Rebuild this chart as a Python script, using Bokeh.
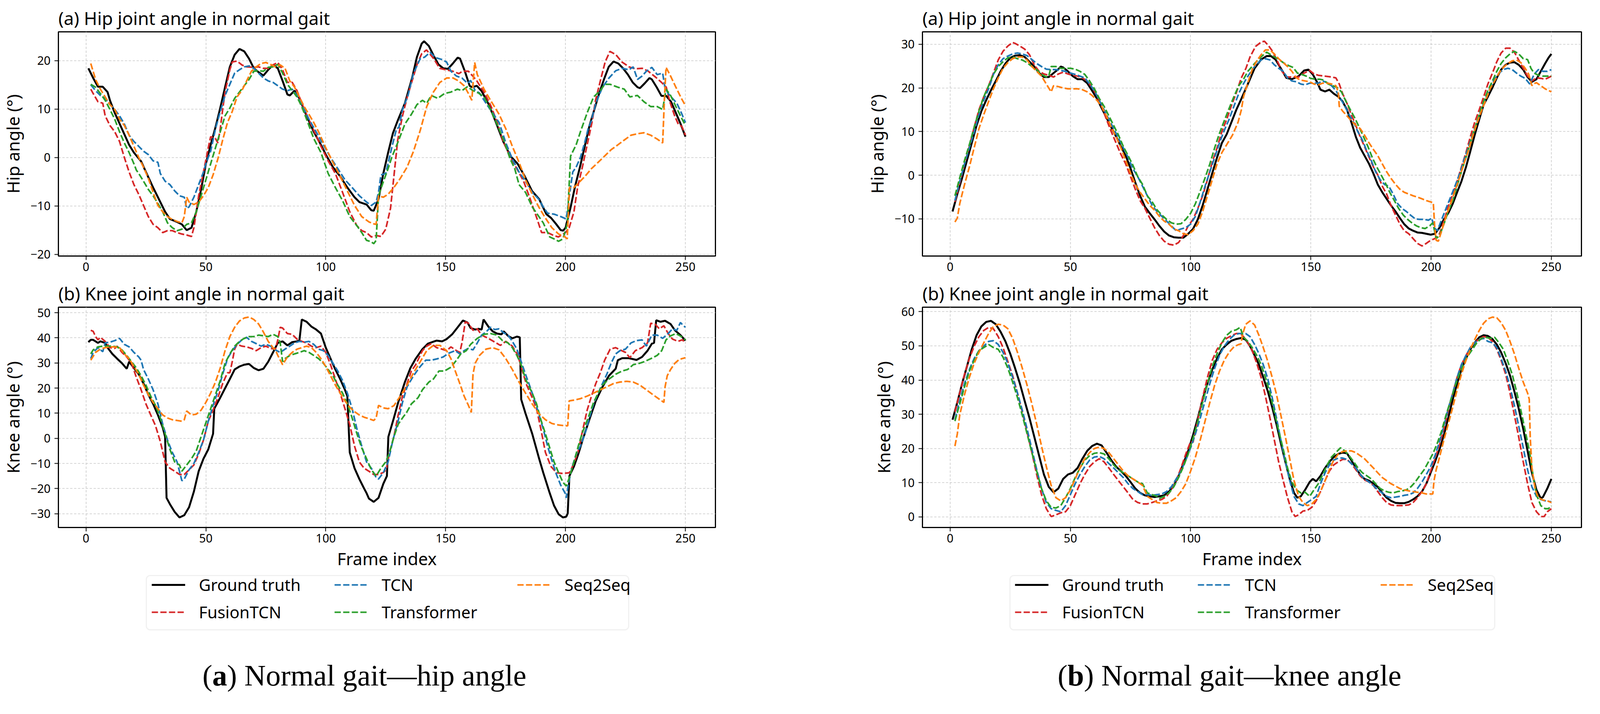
from bokeh.plotting import figure
from bokeh.layouts import row, column
from bokeh.models import Range1d, Legend, LegendItem, BoxAnnotation
from bokeh.core.properties import value
from bokeh.embed import file_html
from bokeh.resources import INLINE

# ---------------- data (frame index, angle in degrees) ----------------
series_names = ["Ground truth", "FusionTCN", "TCN", "Transformer", "Seq2Seq"]
series_colors = ["#000000", "#d62728", "#1f77b4", "#2ca02c", "#ff7f0e"]
x_ticks = [0, 50, 100, 150, 200, 250]

# ---- (a) Normal gait, hip panel ----
hipA_gt_f = [1,3,5,7,9,10,12,15,18,20,23,25,28,30,33,35,38,40,42,44,46,48,50,52,54,56,58,60,62,64,66,68,70,72,74,76,78,80,82,84,85,87,89,92,95,98,100,103,106,109,112,114,117,119,120,122,124,126,128,130,133,136,138,140,141,143,145,147,149,151,153,155,156,158,160,161,163,165,168,171,174,177,180,183,186,189,192,194,196,198,199,200,202,204,206,208,210,212,214,216,218,220,222,224,226,228,230,231,233,235,236,238,240,242,244,246,248,250]
hipA_gt_v = [18.4,16.4,14.6,14.6,13.5,11.8,9.2,5.9,2.6,1.0,-0.8,-3.0,-6.2,-8.2,-11.2,-12.7,-13.3,-13.8,-15.0,-14.5,-11.2,-6.6,-1.3,2.6,6.2,10.2,14.5,18.7,21.2,22.4,21.9,20.4,18.4,17.6,16.9,18.1,19.1,18.4,15.8,13.0,12.8,13.8,12.2,8.6,5.3,2.6,0.6,-2.0,-3.9,-6.2,-8.2,-9.2,-9.7,-10.9,-11.0,-8.6,-3.3,1.0,5.0,7.6,11.2,16.4,20.7,23.5,24.0,23.0,21.0,19.2,18.4,18.3,19.4,20.6,20.4,17.8,14.8,14.5,14.8,13.7,10.9,7.2,3.3,0.3,-1.3,-3.9,-6.9,-8.6,-11.7,-12.5,-13.7,-15.0,-15.1,-14.5,-10.5,-5.9,-2.0,2.3,6.6,9.9,13.2,16.1,18.7,19.8,19.4,18.4,17.1,15.5,14.5,14.3,15.3,16.4,16.1,14.5,12.7,12.7,11.5,9.2,6.9,4.3]
hipA_fus_f = [2,3,5,7,8,10,12,14,16,18,20,22,24,26,28,30,32,34,36,38,40,42,44,45,46,47,49,51,52,54,55,56,57,58,59,60,61,63,65,67,70,72,74,76,78,80,82,84,86,88,90,92,95,98,101,104,107,110,113,115,117,119,121,123,125,127,128.5,130,132,134,136,138,140,142,145,147.5,150,153,155.5,157,159.5,162,163,166,169,171.5,174,177,180,182.5,185,188,190,192.5,195,197,200,201.5,203.5,205,207,209,211,212.5,214.5,216.5,218.5,221,223.5,226.5,229,232,234.5,237.5,240,242,243.5,245.5,247,248.5,250]
hipA_fus_v = [14.1,13.2,11.5,11.2,8.6,6.6,5.3,3.3,0.0,-3.0,-5.6,-7.6,-9.9,-12.2,-13.8,-14.5,-15.5,-15.1,-15.1,-15.5,-15.8,-16.0,-16.3,-14.5,-11.2,-7.9,-3.0,2.0,4.3,3.9,3.0,5.9,9.9,13.5,15.8,18.1,19.7,19.9,19.1,18.7,18.6,18.7,18.4,18.4,19.1,19.6,18.1,15.5,15.5,13.8,11.2,8.9,5.6,2.3,-0.7,-3.3,-7.2,-11.2,-14.1,-15.1,-15.5,-16.4,-16.1,-16.3,-14.8,-10.5,-3.5,3.6,8.6,12.5,15.8,19.1,21.4,22.2,20.4,18.4,18.1,17.8,17.3,17.8,17.8,16.4,15.8,13.5,10.5,7.2,3.3,0.0,-2.6,-4.9,-8.2,-12.5,-15.5,-15.5,-16.1,-16.4,-15.5,-14.5,-11.2,-6.2,-2.0,2.6,7.2,11.8,15.8,19.7,21.9,21.2,19.7,18.7,18.3,18.4,17.8,16.6,15.5,14.5,11.5,8.6,6.9,6.4,4.6]
hipA_tcn_f = [2,4,6,8,10,12,14,16,18,20,22,24,26,28,30,31,33,35,37,39,41,42,43,45,47,49,50,52,54,56,58,60,62,64,66,68,70,72,74,76,78,80,82,84,86,88,90,93,96,99,102,105,108,111,114,117,119,121,122,123,125,127.5,129.5,130.5,132,134.3,136.6,139.4,141.2,143.5,145.8,148.5,150.4,152.2,154.5,156.8,159.1,160.4,162.3,164.1,166.8,169.6,172.3,175.1,177.8,180.6,183.3,186.1,188.8,190.7,192.5,195.2,198,200.3,201.6,203,204.4,206.2,208.1,209.4,210.8,212.6,215.4,218.1,220.9,223.6,226.4,228.2,230,231.9,233.7,236,238.2,240.5,241.4,242.8,244.6,246.4,248.3,250]
hipA_tcn_v = [15.0,13.8,12.8,12.2,10.9,9.9,8.6,6.9,4.6,3.3,2.3,1.3,0.6,-0.7,-1.0,-3.3,-4.9,-5.6,-6.9,-7.9,-8.2,-10.5,-10.2,-8.2,-5.6,-3.0,-1.3,1.3,5.9,9.5,12.8,15.1,17.4,18.1,18.7,18.9,18.4,17.4,16.4,15.8,15.5,14.8,14.1,13.8,14.1,12.8,10.9,7.9,5.3,2.6,0.0,-2.3,-4.6,-6.2,-7.9,-9.2,-9.9,-9.2,-7.2,-3.6,-3.3,2.0,5.9,6.2,9.9,12.8,17.4,20.4,20.7,21.7,20.6,20.2,19.7,17.8,16.8,16.4,15.3,15.9,13.8,13.3,11.2,9.2,7.2,3.0,-0.3,-3.0,-4.9,-7.2,-8.6,-10.2,-11.5,-11.7,-12.2,-12.7,-7.9,-3.0,-2.0,0.0,3.3,5.9,7.6,11.2,14.5,16.4,17.9,18.4,18.1,18.7,16.1,16.8,17.8,18.6,17.1,17.4,14.5,13.2,12.2,11.2,9.2,7.2]
hipA_trf_f = [2,4,6,8,10,12,14,16,18,20,21,22,24,26,28,30,32,34,36,38,40,42,44,46,48,50,52,54,56,58,60,62,64,66,68,70,72,74,76,78,80,82,84,86,88,90,92,95,98,101,104,107,110,113,115,117,119,120,121,122,124,126,127.5,130.2,133,135.7,138,140.3,142.1,144,146.7,149.5,152.2,154.9,156.8,159.1,161.4,163.7,166,168.7,171.4,174.2,176.9,178.8,180.6,183.3,186.1,187.9,190.7,193.4,195.2,197.1,198.9,200.7,201.6,202.1,204.4,206.2,209,211.7,214.5,216.3,218.6,221.8,224.5,226.8,230,232.7,235.5,238.2,240.5,241.9,243.8,246,248.3,250]
hipA_trf_v = [15.1,14.5,13.2,11.8,9.9,7.9,5.3,3.0,1.0,-1.3,-2.6,-3.3,-4.9,-6.6,-7.9,-9.5,-11.2,-13.5,-14.5,-15.1,-14.8,-13.8,-13.5,-11.2,-7.9,-4.6,-1.3,2.0,5.3,8.6,10.2,12.2,13.5,14.8,16.1,17.8,17.9,17.8,18.6,18.7,19.2,17.4,15.1,13.8,12.5,10.5,7.9,3.9,1.0,-3.3,-6.2,-8.9,-12.2,-14.1,-15.5,-17.1,-17.4,-17.8,-17.1,-7.9,-5.0,-2.3,0.0,3.3,6.9,8.9,10.9,11.8,11.2,12.8,12.2,13.2,13.5,14.1,13.8,14.6,13.8,13.3,12.5,9.9,6.9,3.6,-0.3,-2.3,-5.6,-7.2,-10.2,-11.5,-13.5,-16.4,-16.8,-17.3,-16.8,-13.8,-4.6,0.3,2.6,5.3,9.2,12.5,13.8,15.1,15.1,14.5,14.1,12.5,12.8,11.5,10.5,10.5,9.9,14.1,12.8,10.5,8.2,6.6]
hipA_s2s_f = [2,4,6,8,10,12,14,16,18,20,22,24,26,28,30,32,34,36,38,40,41,42,43,45,47,49,51,53,55,57,59,61,63,65,67,69,71,73,75,77,79,81,83,85,87,89,91,93,95,97,100,103,106,109,112,115,118,120,121,122,124,126,128.4,131.1,133.9,136.6,139.4,142.1,144.9,147.6,150.4,153.1,155.4,157.7,159.5,160.9,161.4,162.1,163.2,166,168.7,172.3,175.1,177.8,180.6,183.3,186.1,188.8,191.6,194.3,197.1,199.8,200.7,201.2,201.6,203.5,205.3,208.1,210.8,213.6,216.3,219,221.8,224.5,227.3,230,232.7,235.5,238.2,240.5,241.2,241.9,243.8,246,248.3,250]
hipA_s2s_v = [19.4,16.1,14.1,12.5,10.9,9.9,7.9,6.6,4.6,2.3,0.0,-2.0,-4.3,-7.2,-9.9,-11.2,-12.2,-12.8,-13.2,-13.5,-12.2,-8.2,-9.2,-9.7,-9.2,-7.9,-6.2,-3.6,-0.3,3.6,7.2,9.5,12.5,13.8,15.8,17.8,18.7,19.4,19.6,19.2,18.7,19.1,18.4,15.8,14.5,12.5,10.5,8.9,7.2,5.3,2.0,-1.0,-3.9,-6.9,-9.9,-12.2,-13.3,-13.7,-13.8,-7.9,-8.2,-7.6,-6.2,-4.3,-2.0,1.3,5.6,10.5,13.5,15.5,16.4,16.4,15.8,14.8,13.2,11.8,15.1,19.6,17.1,14.1,11.8,8.9,5.9,2.3,-1.0,-4.6,-7.6,-10.2,-12.5,-14.5,-15.8,-16.4,-16.8,-11.2,-6.2,-6.2,-5.3,-3.9,-2.3,-1.0,0.3,1.6,2.6,3.6,4.6,4.9,5.1,4.6,3.8,3.0,11.8,18.6,16.8,14.5,12.2,10.7]

# ---- (a) Normal gait, knee panel ----
kneeA_gt_f = [1,2,3,5,6,8,9,11,13,15,17,18,20,22,24,26,28,30,32,33,33.6,35,37,39,41,43,45,47,49,51,53,53.5,56,58,60,62,64,66,68,70,72,74,76,78,80,82,84,86,88,89,90,92,94,96,98,100,102,104,106,108,109,110,112,114,116,117,118,120,122,124,125.5,126.1,128.4,130.2,133,135.3,137.5,140.3,142.6,145.3,146.2,148.5,150.4,152.7,155,157.2,159.1,160.4,162.3,163.6,165,165.8,167.8,169.6,171.4,173.3,174.2,176,177.8,179.7,180.9,181.5,183.3,186.1,188.8,190.7,193.4,195.2,197.1,198.9,200.3,200.9,201.6,203.5,205.3,207.1,209.9,212.6,215.4,218.1,220.9,221.8,223.6,226.4,229.6,231.9,234.2,236,236.9,237.8,239.6,241.5,243.8,245.6,247.9,250]
kneeA_gt_v = [38.3,39.2,39.2,38.0,38.6,38.0,36.1,33.6,31.7,29.9,27.7,30.5,28.0,25.5,21.8,17.4,13.7,9.3,4.3,0.6,-23.7,-26.2,-29.3,-31.5,-30.6,-27.4,-21.2,-13.1,-8.1,-4.4,1.8,11.8,16.2,19.9,23.6,27.4,28.6,29.3,29.6,28.0,27.1,27.7,30.5,34.2,38.0,38.6,37.0,38.3,38.6,38.9,47.3,46.4,44.5,43.3,41.7,36.1,31.7,27.4,23.6,19.3,16.8,-5.6,-11.9,-16.2,-20.0,-21.8,-24.0,-25.3,-23.7,-18.1,-15.0,0.6,8.1,14.3,22.4,28.0,31.7,35.5,37.7,38.6,38.9,38.6,39.5,41.4,44.2,46.9,46.1,43.9,43.3,43.6,43.3,47.3,44.5,42.6,41.7,41.4,42.6,40.8,39.8,40.5,40.2,15.5,9.9,1.8,-7.5,-13.7,-21.8,-26.8,-30.2,-31.5,-31.2,-29.9,-15.0,-11.2,-6.3,-0.7,7.4,14.9,20.5,24.9,27.7,31.1,31.9,31.9,31.2,32.4,34.9,37.7,38.0,47.0,46.4,46.8,45.5,43.0,41.1,38.9]
kneeA_fus_f = [2,3,4,5,6,8,10,12,13,15,17,19,21,23,25,27,29,31,33,35,37,39,41,43,45,47,49,51,53,55,57,59,60,61,62,63,65,67,69,71,73,75,77,79,80,81,82,84,86,88,90,92,94,96,98,100,102,104,106,108,110,112,114,116,118,120,122,124,125.2,126.6,128.4,130.2,132,133.9,135.7,137.5,140.3,142.1,144,146.2,148.5,150.4,152.2,154.5,155.9,156.8,158.2,159.5,161.4,163.2,165,167.8,170.5,172.8,175.1,177.8,180.1,182,183.8,186.1,187.9,189.7,191.6,193.9,196.2,198.9,201.6,203.5,205.3,207.1,209,210.8,212.6,214.5,216.3,218.6,220.9,222.7,225,226.8,229.1,231.9,234.2,235.5,237.3,239.1,241,242.8,244.6,246.9,248.7,250]
kneeA_fus_v = [43.0,42.6,40.5,39.2,40.2,38.6,36.1,35.8,36.7,34.2,32.4,29.9,24.3,19.3,13.7,9.3,5.0,-1.3,-9.4,-11.9,-13.1,-14.4,-14.4,-12.5,-10.6,-6.2,-0.7,6.8,11.2,16.2,21.8,26.1,26.1,30.5,35.5,37.4,36.7,36.4,35.8,34.9,36.1,36.7,35.8,35.5,39.2,44.2,43.9,41.7,41.4,39.5,38.6,38.0,36.7,36.1,36.7,34.2,29.3,23.6,18.0,11.8,5.5,-3.1,-9.4,-11.9,-13.1,-14.4,-14.4,-13.6,-12.5,-5.6,0.6,9.3,16.8,21.8,26.8,29.3,34.9,36.7,37.7,36.1,35.5,34.9,36.4,34.9,34.2,38.0,46.4,45.8,43.0,43.6,41.1,39.8,38.3,37.0,38.6,36.7,33.0,26.8,21.2,16.2,11.8,3.7,-5.6,-11.2,-13.7,-14.0,-13.7,-10.0,-5.0,3.1,11.2,16.8,21.8,26.1,31.1,35.5,36.1,35.2,34.2,32.1,34.9,36.1,38.0,45.8,45.5,43.6,44.8,41.7,39.5,38.6,39.2,38.0]
kneeA_tcn_f = [2,3,5,7,8,10,12,14,16,18,20,22,23,24,26,28,30,32,34,36,38,40,41,43,45,47,49,51,53,55,57,59,61,63,65,67,69,71,73,75,77,79,81,83,85,87,89,91,93,95,97,99,101,103,105,107,109,111,113,115,117,119,121,122,124,126,128,130,132,133.9,136.6,139.4,141.7,144,146.7,149,151.3,154,155.9,157.7,159.5,161.4,163.2,165,166.8,168.7,170.5,172.3,174.2,176,177.8,179.7,181.5,183.3,185.2,187,188.8,190.7,192.5,194.3,196.2,198,199.8,200.3,201.2,202.6,204.4,206.2,208.1,209.9,211.7,213.6,215.4,217.2,219,220.9,222.7,225,227.3,229.6,231.9,233.7,236,238.2,240.5,242.8,244.6,246.4,247.9,249.2,250]
kneeA_tcn_v = [31.7,34.2,36.1,34.5,38.0,38.3,38.9,39.8,37.4,36.4,34.2,32.4,31.1,27.4,23.6,19.3,13.7,5.6,-0.7,-5.6,-9.4,-16.9,-16.2,-12.5,-10.0,-5.6,-0.7,6.8,13.1,18.7,25.5,31.7,34.9,37.4,39.2,40.2,38.6,37.7,36.7,37.4,36.7,35.2,34.2,35.5,36.7,38.0,38.6,38.3,38.6,37.4,35.5,34.9,33.0,29.9,26.8,23.0,18.0,11.8,3.7,-3.1,-9.4,-11.9,-15.6,-16.2,-13.7,-9.4,-0.7,6.2,14.3,20.5,24.9,28.6,31.1,31.1,31.7,32.4,33.9,34.9,33.6,34.9,35.8,35.2,38.0,41.1,42.3,44.2,43.3,43.6,42.0,41.1,38.6,35.5,30.5,25.5,20.5,15.5,9.9,3.7,-3.1,-8.8,-14.4,-18.7,-21.8,-23.7,-18.1,-11.9,-6.3,-3.1,1.8,8.1,13.7,18.0,21.8,25.5,29.9,33.6,34.9,35.5,38.0,38.9,39.2,36.7,41.1,41.1,39.8,41.7,43.6,43.0,46.1,44.8,44.2]
kneeA_trf_f = [2,3,5,7,9,11,13,15,17,19,21,23,25,27,29,31,33,35,37,39,40,42,44,46,48,50,52,54,56,58,60,62,64,66,68,70,72,74,76,78,80,81,82,83,85,87,89,91,93,95,97,99,101,103,105,107,109,111,113,115,117,119,121,123,125,126.6,128.4,130.2,132,133.9,135.7,138.5,140.3,143,144.9,147.2,149.5,152.2,154.5,156.3,158.6,160.4,163.2,166,168.7,171.4,173.7,176,177.8,179.7,181.5,183.3,186.1,187.9,189.7,191.6,193.4,195.2,197.1,198.9,200.3,201.6,203.5,205.3,207.1,209.4,211.7,213.6,215.4,218.1,220.9,223.6,225.9,228.2,230.9,232.8,235.5,238.2,240.1,241.9,243.8,246,248.3,250]
kneeA_trf_v = [33.6,35.2,36.4,36.7,36.7,36.7,36.4,35.2,33.0,30.5,28.0,24.9,21.2,16.8,13.1,8.1,1.8,-4.4,-9.4,-10.6,-13.1,-10.6,-8.1,-5.0,0.6,6.2,11.8,17.4,23.0,29.9,33.6,36.7,38.6,39.8,40.5,40.5,41.1,40.8,40.5,41.4,40.5,38.0,30.5,31.7,33.0,33.6,34.2,34.9,34.2,33.0,31.7,29.9,27.4,24.9,21.2,18.0,13.7,8.1,1.8,-3.8,-8.1,-12.5,-15.0,-11.9,-9.4,-5.6,0.6,5.6,8.1,10.6,13.7,16.2,19.3,22.4,23.6,26.8,26.8,28.3,31.1,33.6,34.9,37.4,39.8,41.4,41.7,41.1,38.9,38.0,36.1,33.0,29.3,23.6,18.0,13.7,7.4,1.8,-3.8,-9.4,-13.7,-17.5,-19.0,-15.6,-9.4,-3.1,2.5,8.1,14.3,18.0,21.2,23.6,25.5,26.8,27.4,29.3,29.9,30.5,31.7,33.0,34.9,39.2,40.8,41.7,40.5,39.2]
kneeA_s2s_f = [2,4,6,8,10,12,14,16,18,20,22,24,26,28,30,32,34,36,38,40,41,42,44,46,48,50,52,54,56,58,60,62,64,66,68,70,72,74,76,78,79,80,82,84,86,88,90,92,94,96,98,100,102,104,106,108,110,112,114,116,118,120,121,122,124,126,128.4,131.1,133.9,136.6,139.4,142.1,144.9,147.6,150.4,152.2,154,155.9,157.7,159.5,160.7,161.4,162.3,164.1,166.8,169.6,172.3,175.1,177.8,180.6,183.3,186.1,188.8,191.6,194.3,197.1,199.8,200.9,201.5,203.5,206.2,209,211.7,214.5,217.2,220,222.7,225.5,228.2,231,233.7,236.4,239.2,241,241.5,242.4,243.8,245.6,247.4,250]
kneeA_s2s_v = [31.1,34.2,35.5,36.1,36.4,36.4,36.1,33.6,31.7,28.6,25.5,21.2,17.4,14.3,11.8,9.3,8.1,7.4,7.1,6.8,7.4,10.9,9.3,9.6,11.2,14.3,18.0,22.4,28.0,34.9,40.5,44.2,46.7,47.9,48.3,47.3,45.5,42.3,38.6,36.1,35.2,33.0,29.3,32.4,34.2,35.5,36.1,36.7,36.1,34.2,31.7,28.6,24.9,21.2,18.0,14.9,12.4,10.6,9.3,8.4,7.8,7.1,8.1,13.1,12.1,11.8,13.0,16.8,21.2,26.1,30.5,34.9,37.0,37.0,34.9,31.7,26.8,21.8,16.8,13.1,10.3,25.5,29.9,33.0,35.5,36.1,35.2,31.7,27.4,22.4,18.0,13.7,9.9,7.4,5.9,5.3,5.0,5.0,14.9,15.2,15.8,16.8,18.0,19.3,20.5,21.8,22.4,22.7,22.4,21.2,19.3,17.4,15.5,14.3,20.5,24.9,27.4,29.9,31.4,32.1]

# ---- (b) Normal gait, hip panel ----
hipB_gt_f = [1,3,5,7,9,11,13,15,17,19,21,23,25,27,29,31,33,35,37,39,41,43,45,46,47,49,51,53,55,57,59,61,63,65,67,69,71,73,75,77,79,81,83,85,87,89,91,93,95,97,99,101,103,105,107,109,111,113,115,117,119,121,123.8,126.6,129.3,131.6,133.4,135.3,137.5,139.8,142.1,144.9,147.2,149,150.8,152.7,154,155.9,157.7,159.5,161.4,163.2,165,166.8,168.7,170.5,172.3,174.2,176,177.8,179.7,181.5,183.3,185.2,187,188.8,190.7,192.5,194.3,196.2,198,199.8,201.6,203.5,205.3,207.1,209,210.8,212.6,214.5,216.3,218.1,220,221.8,223.6,225.5,227.3,229.1,231,232.8,234.6,236.4,238.3,240.1,241.9,243.8,245.6,247.4,248.8,250]
hipB_gt_v = [-8.3,-4.3,-0.6,3.4,7.4,11.4,14.7,17.2,19.5,21.6,23.8,25.6,26.9,27.4,27.5,27.1,26.0,24.9,23.4,22.5,22.5,23.4,24.3,24.9,24.7,23.8,22.7,22.0,22.0,21.1,19.4,17.6,15.4,13.2,11.0,8.9,6.6,4.5,1.6,-1.7,-4.7,-7.2,-8.7,-10.1,-11.6,-12.9,-13.8,-14.2,-14.3,-14.3,-13.4,-12.3,-10.1,-6.9,-3.2,0.5,4.1,7.4,9.4,12.2,15.0,17.4,20.9,24.5,26.5,27.3,27.3,26.5,24.5,22.3,22.0,22.7,24.0,24.2,23.1,21.2,19.6,19.2,19.6,18.7,18.0,16.9,15.0,12.2,8.8,6.3,4.5,2.6,0.4,-2.1,-3.9,-5.4,-6.9,-8.3,-9.8,-11.2,-12.2,-12.7,-13.1,-13.2,-13.4,-13.6,-13.4,-12.0,-10.1,-8.7,-6.5,-3.9,-1.4,1.9,5.5,9.2,12.8,16.1,18.0,20.1,22.3,24.2,25.3,25.8,25.9,25.3,24.2,22.5,21.4,22.0,23.8,25.6,26.9,27.8]
hipB_fus_f = [2,4,6,8,10,12,14,16,18,20,22,24,26,27,29,31,33,35,37,39,41,43,45,47,49,51,53,55,57,59,61,63,65,67,69,71,73,75,77,79,81,83,85,87,89,91,93,95,97,99,101,103,105,107,109,111,113,115,117,119,121,123,124.7,127,129.3,130.7,132.5,134.3,136.2,138,139.8,142.1,144.9,147.2,149.5,151.3,153.1,155.9,158.6,160.4,161.8,163.2,165,166.8,168.7,170.5,172.3,174.2,176,177.8,179.7,181.5,183.3,185.2,187,188.8,190.7,192.5,194.3,196.2,198,199.8,201.6,203.5,205.3,207.1,209,210.8,212.6,214.5,216.3,218.1,220,221.8,223.6,225.5,227.3,229.1,231,232.8,234.6,236.4,238.3,240.1,241.9,243.8,245.6,247.4,250]
hipB_fus_v = [-6.1,-1.8,2.6,6.6,11.0,15.0,18.0,20.5,23.4,26.4,28.4,29.6,30.4,30.2,29.6,28.9,27.6,25.3,23.8,23.2,22.9,22.5,23.2,23.6,23.2,22.9,22.7,22.3,21.6,20.1,18.3,15.8,12.8,10.0,7.4,4.8,2.6,-0.3,-3.2,-5.8,-7.6,-9.8,-12.0,-13.8,-15.1,-15.8,-16.0,-15.4,-13.8,-11.6,-10.1,-7.6,-4.7,-1.0,3.0,6.3,10.0,12.8,16.0,18.9,22.2,24.5,27.1,29.5,30.5,30.7,29.6,28.2,26.0,23.8,22.5,22.5,22.5,23.4,24.0,23.2,22.9,22.7,22.5,22.3,20.9,18.7,16.5,13.9,11.4,8.8,6.6,4.1,1.9,0.1,-2.5,-4.3,-6.9,-9.1,-11.2,-12.7,-13.4,-14.5,-15.6,-16.2,-15.6,-14.9,-14.5,-13.4,-10.5,-7.2,-4.3,-1.4,1.9,5.2,8.8,12.1,15.0,17.9,20.9,23.4,26.0,28.0,29.1,29.1,28.2,26.4,24.5,22.7,21.6,22.3,22.2,22.0,22.7]
hipB_tcn_f = [2,4,6,8,10,12,14,16,18,20,22,24,26,28,30,32,34,36,38,40,42,44,46,48,50,52,54,56,58,60,62,64,66,68,70,72,74,76,78,80,82,84,86,88,90,92,94,96,98,100,102,104,106,108,110,112,114,116,118,120,122,123.8,126.6,129.3,131.1,133,134.8,136.6,138.5,140.3,142.1,144,145.8,147.6,149.5,151.3,153.1,154.9,156.8,158.6,160.4,162.3,164.1,165.9,167.8,169.6,171.4,173.3,175.1,176.9,178.8,180.6,182.4,184.2,186.1,187.9,189.7,191.6,193.4,195.2,197.1,198.9,200.3,201.2,202.6,204.4,206.2,208.1,209.9,211.7,213.6,215.4,217.2,219,220.9,222.7,224.5,226.4,228.2,230,231.9,233.7,235.5,237.3,239.1,241,242.8,244.6,246.5,248.3,250]
hipB_tcn_v = [-5.8,-1.4,2.6,6.3,9.9,13.9,17.2,19.8,23.1,25.3,26.7,27.3,27.8,28.0,27.8,27.4,26.5,25.6,24.9,24.3,24.2,24.2,24.0,23.8,23.4,23.1,22.7,22.3,20.9,19.4,17.2,15.0,12.8,10.7,8.5,6.3,4.1,1.5,-0.3,-2.5,-4.7,-6.9,-8.3,-9.4,-10.5,-11.6,-12.7,-12.3,-12.0,-11.2,-9.4,-6.1,-2.5,0.8,4.1,7.4,10.3,12.8,15.8,18.7,21.0,22.7,24.9,26.4,26.7,26.4,25.3,24.5,23.8,22.3,21.6,21.4,20.9,20.7,21.1,21.1,21.1,21.6,21.2,20.5,19.4,17.6,15.8,13.9,12.1,9.9,8.1,5.5,3.4,0.8,-1.0,-2.1,-2.5,-4.3,-6.5,-7.6,-8.3,-9.2,-10.0,-10.1,-10.1,-10.3,-9.8,-12.0,-12.7,-10.1,-7.6,-5.0,-2.5,0.1,3.4,6.3,9.2,12.1,15.0,17.6,20.1,22.0,23.4,24.2,24.5,24.2,23.4,22.7,22.2,20.9,23.1,24.2,23.8,23.8,24.2]
hipB_trf_f = [2,4,6,8,10,12,14,16,18,20,22,24,26,28,30,32,34,36,38,40,41,42,44,46,48,50,52,54,56,58,60,62,64,66,68,70,72,74,76,78,80,82,84,86,88,90,92,94,96,98,100,102,104,106,108,110,112,114,116,118,120,122,123.8,126.6,129.3,131.6,133.9,136.2,138.5,140.8,142.6,144.4,146.2,148.1,149.9,151.7,153.6,155.4,157.2,159.1,160.9,162.7,164.6,166.4,168.2,170.1,171.9,173.7,175.5,177.4,179.2,181,182.8,184.7,186.5,188.4,190.2,192,193.9,195.7,197.5,199.4,200.7,202.1,203.5,205.3,207.1,209,210.8,212.6,214.5,216.3,218.1,220,221.8,223.6,225.5,227.3,229.1,231,232.8,234.6,236.4,238.3,240.1,241.5,242.8,244.6,246.5,250]
hipB_trf_v = [-4.7,-0.6,3.4,7.0,11.0,14.7,18.0,20.5,23.1,24.9,26.0,26.9,27.1,26.7,26.4,25.8,24.9,24.2,23.1,22.5,22.7,24.9,24.9,24.5,24.5,24.5,24.3,23.8,23.1,21.6,19.8,17.6,15.8,13.6,11.4,9.2,6.6,4.5,2.3,-0.3,-2.1,-4.7,-6.1,-7.9,-9.1,-10.1,-10.9,-11.2,-11.1,-10.1,-8.7,-6.5,-3.6,-0.6,2.6,6.3,9.6,12.5,15.3,18.0,20.5,22.0,23.8,25.6,27.1,28.2,27.4,26.7,25.8,25.1,24.7,23.4,23.1,22.7,22.2,22.0,22.0,21.8,20.9,20.5,20.1,19.1,16.9,15.0,13.2,11.0,8.8,6.6,4.1,1.9,0.1,-1.8,-3.9,-5.8,-7.6,-9.1,-10.1,-10.9,-11.6,-12.0,-12.2,-11.6,-10.9,-14.5,-13.8,-11.2,-8.3,-5.8,-2.5,0.8,4.1,7.4,10.7,13.9,16.9,19.4,21.6,23.8,25.6,26.9,27.8,28.4,27.8,26.7,26.5,24.5,23.4,22.9,22.7,22.7]
hipB_s2s_f = [2,3,4,6,8,10,12,14,16,18,20,22,24,26,28,30,32,34,36,38,40,42,43,45,47,49,51,53,55,57,59,61,63,65,67,69,71,73,75,77,79,81,83,85,87,89,91,93,95,97,99,101,103,105,107,109,111,113,115,117.4,119.7,121.1,122,123.8,125.6,127.5,129.3,131.1,133,134.8,136.6,138.5,140.3,142.1,144,145.8,147.6,149.5,151.3,153.1,154.9,156.8,158.6,160.4,161.4,161.8,163.2,165,166.8,168.7,170.5,172.3,174.2,176,177.8,179.7,181.5,183.3,185.2,187,188.8,190.7,192.5,194.3,196.2,198,199.8,200.9,201.5,202.1,203,204.4,206.2,208.1,209.9,211.7,213.6,215.4,217.2,219,220.9,222.7,224.5,226.4,228.2,230,231.9,233.7,235.5,237.3,239.1,240.6,241.9,242.4,243.8,245.6,247.4,250]
hipB_s2s_v = [-10.7,-9.8,-6.5,-2.1,1.9,6.3,10.7,13.9,16.9,19.8,22.3,24.5,25.8,26.7,27.1,27.1,26.4,24.9,23.8,22.7,20.9,19.1,20.5,20.3,20.0,19.8,19.8,19.8,19.6,19.1,18.3,17.2,15.8,13.6,11.0,8.8,6.3,3.4,0.5,-2.1,-3.9,-5.4,-6.9,-8.0,-9.4,-10.5,-11.2,-12.3,-12.7,-13.4,-13.6,-12.7,-11.2,-8.3,-4.7,-1.0,2.6,5.2,7.0,9.2,12.1,15.0,18.0,21.2,24.2,26.2,27.6,28.7,28.7,27.8,26.7,25.8,24.9,23.8,22.3,21.8,21.6,21.4,20.9,20.7,21.1,21.1,20.9,20.5,19.1,15.8,14.7,13.6,12.5,11.4,10.7,9.2,7.4,5.9,4.5,2.6,0.8,-0.7,-2.1,-3.2,-3.9,-4.3,-4.7,-5.0,-5.4,-5.8,-6.1,-6.3,-12.0,-14.9,-15.1,-12.7,-9.4,-6.5,-3.6,-0.7,2.6,5.5,8.8,11.8,14.7,17.2,19.8,21.6,23.4,24.7,25.6,26.2,26.4,25.8,24.5,23.1,20.5,20.9,21.2,20.5,19.8,19.1]

# ---- (b) Normal gait, knee panel ----
kneeB_gt_f = [1,3,5,7,9,11,13,15,17,19,21,23,25,27,29,31,33,35,37,39,41,43,45,47,49,51,53,55,57,59,61,63,65,67,69,71,73,75,77,79,81,83,85,87,89,91,93,95,97,99,101,103,105,107,109,111,113,115,117,119,121.1,122.9,124.7,126.6,128.4,130.2,132.1,133.9,135.7,137.5,139.4,141.2,143,144.4,145.8,147.6,149.5,150.8,152.2,154,155.9,157.7,159.5,161.4,163.2,165,166.8,168.7,170.5,172.3,174.2,176,177.8,179.7,181.5,183.3,185.2,187,188.8,190.7,192.5,194.3,196.2,198,199.8,201.6,203.5,205.3,207.1,209,210.8,212.6,214.5,216.3,218.1,220,221.8,223.6,225.5,227.3,229.1,231,232.8,234.6,236.4,238.3,240.1,241.9,243.8,245.6,246.5,248.3,250]
kneeB_gt_v = [28.4,33.5,39.0,44.0,49.0,53.1,55.7,57.0,57.3,56.3,54.1,51.3,47.7,43.5,39.0,33.9,28.9,23.4,17.9,12.4,8.8,7.2,8.3,11.1,12.4,12.9,14.3,17.0,19.3,20.7,21.4,20.9,18.8,16.6,14.7,13.4,12.0,10.2,8.3,7.0,6.3,6.0,5.8,6.0,6.3,7.4,9.2,12.0,15.6,19.3,23.9,28.9,34.4,39.0,43.1,46.3,49.0,50.4,51.5,52.0,52.3,51.8,49.9,47.2,44.5,40.8,36.7,32.1,27.1,21.6,16.1,11.1,7.0,5.6,6.0,7.9,10.2,11.1,10.4,12.0,14.3,16.1,17.5,18.4,18.8,18.6,16.6,14.3,12.4,11.1,10.6,9.7,8.8,7.0,5.6,4.7,4.1,4.0,4.0,4.4,5.1,6.0,7.4,9.7,12.9,16.1,19.8,23.9,28.9,34.4,39.0,43.1,46.3,49.0,50.9,52.5,53.1,52.9,52.0,50.4,48.1,44.9,41.3,36.7,31.7,25.7,19.3,12.9,7.9,5.4,5.8,8.3,11.1]
kneeB_fus_f = [2,4,6,8,10,12,14,16,18,20,22,24,26,28,30,32,34,36,38,40,42,44,46,48,50,52,54,56,58,60,62,64,66,68,70,72,74,76,78,80,82,84,86,88,90,92,94,96,98,100,101,103,105,107,109,111,113,115,117,119,120.6,122,123.8,125.6,127.5,129.3,131.1,133,134.8,136.6,138.5,140.3,142.1,143.5,144.9,146.7,148.5,150.4,152.2,154,155.9,157.7,159.5,161.4,163.2,165,166.8,168.7,170.5,172.3,174.2,176,177.8,179.7,181.5,183.3,185.2,187.9,190.7,192.5,194.3,196.2,198,199.8,201.6,203.5,205.3,207.1,209,210.8,212.6,214.5,216.3,218.1,220,221.8,223.6,225.5,227.3,229.1,231,232.8,234.6,236.4,238.3,240.1,241.9,243.8,245.6,247,248.3,250]
kneeB_fus_v = [30.7,36.2,41.7,46.3,49.9,52.7,54.5,55.4,55.0,52.7,49.5,45.4,41.3,36.2,30.7,24.8,18.8,12.4,6.5,2.4,0.1,0.6,1.2,1.5,3.3,6.5,9.7,12.4,14.7,16.1,17.0,16.1,14.3,12.4,10.6,8.8,7.0,5.1,4.2,3.8,3.8,4.2,4.7,5.1,6.0,7.9,10.6,14.3,18.4,22.0,21.8,28.4,34.9,40.8,45.8,49.0,50.9,52.2,53.0,53.6,53.6,52.7,50.9,48.6,44.9,40.8,35.3,28.9,22.5,16.1,10.6,5.6,1.5,0.1,0.6,1.7,1.9,2.8,4.7,7.4,10.6,13.4,15.2,16.1,16.8,16.8,15.6,13.8,12.0,10.8,10.2,9.2,7.4,5.6,4.2,3.5,3.3,3.3,3.5,4.2,5.6,7.4,9.7,13.4,17.0,21.1,25.7,31.2,36.2,40.8,44.5,47.2,49.5,50.9,52.0,52.7,52.5,51.3,49.0,45.8,41.7,36.2,29.8,23.4,16.1,9.7,4.2,1.5,0.1,0.1,1.5,2.4]
kneeB_tcn_f = [2,4,6,8,10,12,14,16,18,20,22,24,26,28,30,32,34,36,38,40,42,44,46,48,50,52,54,56,58,60,62,64,66,68,70,72,74,76,78,80,82,84,86,88,90,92,94,96,98,100,102,104,106,108,110,112,114,116,118,120,122.9,124.7,126.6,128.4,130.2,132.1,133.9,135.7,137.5,139.4,141.2,143,144.9,146.7,148.5,150.4,152.2,154,155.9,157.7,159.5,161.4,163.2,165,166.8,168.7,170.5,172.3,174.2,176,177.8,179.7,181.5,183.3,185.2,187,188.8,190.7,192.5,194.3,196.2,198,199.8,201.6,203.5,205.3,207.1,209,210.8,212.6,214.5,216.3,218.1,220,221.8,223.6,225.5,227.3,229.1,231,232.8,234.6,236.4,238.3,240.1,241.9,243.8,245.6,247.4,250]
kneeB_tcn_v = [28.4,33.9,39.0,43.1,46.3,48.6,49.9,51.3,51.5,50.4,48.1,44.9,40.8,36.2,31.2,25.7,19.8,13.8,8.3,4.2,2.4,1.9,1.5,3.3,6.5,9.7,12.4,14.7,16.6,17.5,17.7,17.0,15.6,14.3,12.9,11.5,9.7,8.3,7.4,6.5,6.5,6.3,6.5,6.7,7.4,8.8,11.1,13.4,16.6,20.2,24.3,28.9,33.9,39.0,43.5,47.2,49.9,51.8,53.1,53.6,53.6,52.7,50.4,47.7,44.5,40.3,34.9,28.9,22.5,16.1,10.6,6.0,3.8,3.3,4.2,5.1,6.0,9.7,12.9,15.2,16.6,17.2,17.2,16.8,15.6,14.3,12.4,11.1,10.2,9.2,7.9,7.0,6.0,5.6,5.8,6.0,6.3,6.5,7.0,8.3,10.2,12.4,14.7,17.9,22.0,26.6,31.7,36.2,40.8,44.5,47.2,49.5,50.9,51.8,52.2,51.3,50.9,49.5,46.3,42.6,38.1,32.6,26.6,20.2,13.8,8.8,6.0,5.1,4.7,4.4]
kneeB_trf_f = [2,4,6,8,10,12,14,16,18,20,22,24,26,28,30,32,34,36,38,40,42,44,46,48,50,52,54,56,58,60,62,64,66,68,70,72,74,76,78,80,82,84,86,87,89,91,93,95,97,99,101,103,105,107,109,111,113,115,117,119,120.6,122,123.8,125.6,127.5,129.3,131.1,133,134.8,136.6,138.5,140.3,142.1,144,145.8,147.6,149.5,151.3,153.1,154.9,156.8,158.6,160.4,162.3,164.1,165.9,167.8,169.6,171.4,173.3,175.1,176.9,178.8,180.6,182.4,184.2,186.1,187.9,189.7,191.6,193.4,195.2,197.1,198.9,200.7,202.6,204.4,206.2,208.1,209.9,211.7,213.6,215.4,217.2,219,220.9,222.7,224.5,226.4,228.2,230,231.9,233.7,235.5,237.3,239.1,241,242.4,243.8,245.6,247.4,248.8,250]
kneeB_trf_v = [28.0,33.0,38.1,42.6,45.8,48.6,49.5,50.4,49.5,49.0,46.7,43.5,39.4,34.9,29.8,24.3,18.8,13.4,8.3,4.7,2.8,2.6,3.3,5.6,8.3,11.5,14.3,16.6,17.9,18.6,18.8,18.4,17.0,15.2,13.8,12.9,12.0,11.1,10.2,9.7,7.0,6.5,6.0,5.4,6.0,7.0,8.8,11.5,14.7,18.4,23.0,28.0,33.5,39.0,44.0,47.7,50.9,53.1,54.3,54.7,55.4,52.5,51.3,49.5,47.2,44.5,40.8,36.2,30.7,25.2,19.8,14.3,10.2,7.9,7.0,7.2,6.0,7.9,9.7,12.4,15.2,17.5,18.8,20.2,19.3,17.9,16.1,14.3,12.9,12.0,11.1,9.7,8.3,7.6,7.2,7.0,7.4,7.6,7.9,8.8,10.2,12.0,13.8,16.1,18.4,21.6,25.2,29.8,33.9,38.1,41.7,44.9,47.2,49.0,50.9,52.2,52.5,52.2,52.5,50.9,49.0,45.4,41.7,36.7,31.2,25.2,18.8,12.0,6.5,3.3,2.4,2.4,3.3]
kneeB_s2s_f = [2,3,4,6,8,10,12,14,16,18,20,22,24,26,28,30,32,34,36,38,40,42,44,46,48,50,52,54,56,58,60,62,64,66,68,70,72,74,76,78,80,82,84,86,88,90,92,94,96,98,100,102,104,106,108,110,112,114,116,118,120,121,121.5,122.9,124.7,126.6,128.4,130.2,132.1,133.9,135.7,137.5,139.4,141.2,143,144.9,146.7,148.5,150.4,152.2,154,155.9,157.7,159.5,161.4,163.2,165,166.8,168.7,170.5,172.3,174.2,176,177.8,179.7,181.5,183.3,185.2,187,188.8,190.7,192.5,194.3,196.2,198,200.7,201.2,202.1,203.5,205.3,207.1,209,210.8,212.6,214.5,216.3,218.1,220,221.8,223.6,225.5,227.3,229.1,231,232.8,234.6,236.4,238.3,240.1,240.8,241.2,241.9,243.3,244.6,246.5,248.3,250]
kneeB_s2s_v = [20.7,24.3,29.8,35.8,40.8,44.9,48.1,50.9,53.6,55.7,56.3,56.1,55.0,52.2,48.1,43.5,38.5,33.0,27.1,20.7,14.7,9.2,5.6,4.7,5.6,7.9,11.1,14.3,17.0,18.8,20.0,20.4,20.0,18.8,17.0,15.2,13.4,12.0,11.1,10.2,9.2,6.0,5.1,4.2,4.0,4.0,4.7,5.6,7.4,9.7,13.4,17.5,22.5,28.0,33.5,38.5,42.6,45.8,48.1,49.7,50.4,50.6,53.1,56.3,57.3,56.1,53.1,49.5,45.4,40.8,35.8,29.8,23.4,17.0,10.6,6.0,4.2,3.3,3.8,5.1,7.4,10.6,13.8,16.6,18.4,19.1,19.3,19.3,18.8,17.9,17.0,15.6,14.3,12.9,11.5,10.6,9.7,9.0,8.3,7.9,7.6,7.4,7.2,7.0,6.7,6.7,10.6,13.8,17.5,22.5,27.1,32.1,37.1,41.7,45.8,49.0,51.8,54.5,56.6,57.9,58.4,58.2,56.8,54.5,51.3,47.7,43.5,39.4,36.2,34.4,23.4,14.3,7.9,5.6,4.9,4.7,4.2]

# ---------------- styling helpers ----------------
FONT = "Noto Sans"
SERIF = "Liberation Serif"
CAP_PX = 76
X_RANGE = (-11.5, 262.5)
GT_W, PR_W, PR_DASH = 5.0, 4.2, "16 6"

# Times-compatible advance widths (em) used to set the bold sub-figure letter inside the caption
_REG = {"(": .333, ")": .333, " ": .25, "N": .722, "o": .5, "r": .333, "m": .778, "a": .444,
        "l": .278, "g": .5, "i": .278, "t": .278, "\u2014": 1.0, "h": .5, "p": .5, "n": .5,
        "e": .444, "k": .5}
_BOLD = {"a": .5, "b": .556}


def style_panel(p, y_ticks, ylabel, xlabel=None):
    p.xaxis.ticker = x_ticks
    p.yaxis.ticker = y_ticks
    for ax in (p.xaxis[0], p.yaxis[0]):
        ax.major_label_text_font = FONT
        ax.major_label_text_font_size = "30px"
        ax.major_label_text_color = "black"
        ax.major_tick_out = 10
        ax.major_tick_in = 0
        ax.major_tick_line_width = 2
        ax.minor_tick_out = 0
        ax.minor_tick_in = 0
        ax.axis_line_width = 3
        ax.axis_label_text_font = FONT
        ax.axis_label_text_font_size = "44px"
        ax.axis_label_text_font_style = "normal"
        ax.axis_label_text_color = "black"
    p.xaxis.major_label_standoff = 6
    p.yaxis.major_label_standoff = 10
    p.yaxis.axis_label = ylabel
    p.yaxis.axis_label_standoff = 12
    if xlabel:
        p.xaxis.axis_label = xlabel
        p.xaxis.axis_label_standoff = 8
    p.grid.grid_line_color = "#c8c8c8"
    p.grid.grid_line_dash = "6 4"
    p.grid.grid_line_width = 1.6
    p.outline_line_color = "black"
    p.outline_line_width = 3
    p.outline_line_alpha = 1.0
    p.background_fill_color = "white"
    p.border_fill_color = "white"
    p.title.align = "left"
    p.title.text_font = FONT
    p.title.text_font_size = "46px"
    p.title.text_font_style = "normal"
    p.title.text_color = "black"
    p.title.standoff = 10


def draw_series(p, fv_list):
    for (f, v), name, col in zip(fv_list, series_names, series_colors):
        if name == "Ground truth":
            p.line(f, v, line_color=col, line_width=GT_W)
        else:
            p.line(f, v, line_color=col, line_width=PR_W, line_dash=PR_DASH)


def make_panel(width, height, bl, br, bt, bb, yr, y_ticks, title, ylabel, fv_list, xlabel=None):
    p = figure(width=width, height=height, x_range=Range1d(*X_RANGE), y_range=Range1d(*yr),
               output_backend="svg", toolbar_location=None, title=title,
               min_border_left=bl, min_border_right=br, min_border_top=bt, min_border_bottom=bb)
    style_panel(p, y_ticks, ylabel, xlabel)
    draw_series(p, fv_list)
    return p


def add_caption(b, letter, rest, cx, cy):
    w_open = _REG["("] * CAP_PX
    w_letter = _BOLD[letter] * CAP_PX
    w_rest = sum(_REG[c] for c in rest) * CAP_PX
    x0 = cx - (w_open + w_letter + w_rest) / 2.0
    parts = [("(", x0, "normal"), (letter, x0 + w_open, "bold"), (rest, x0 + w_open + w_letter, "normal")]
    for txt, xx, style in parts:
        b.text(x=[xx], y=[cy], text=[txt], text_font=value(SERIF), text_font_style=style,
               text_font_size=f"{CAP_PX}px", text_align="left", text_baseline="alphabetic",
               text_color="black")


def make_bottom(width, height, bl, br, legend_x, legend_y, box, letter, rest, cap_x, cap_y, fv_list):
    # the column aligns this canvas' frame with the panels above: 1 data unit = 1 px of that frame
    frame_w = width - bl - br
    b = figure(width=width, height=height, x_range=Range1d(0, frame_w), y_range=Range1d(0, height),
               output_backend="svg", toolbar_location=None, x_axis_type=None, y_axis_type=None,
               min_border_left=bl, min_border_right=br, min_border_top=0, min_border_bottom=0)
    b.grid.visible = False
    b.outline_line_color = None
    b.background_fill_color = "white"
    b.border_fill_color = "white"
    b.add_layout(BoxAnnotation(left=box[0], right=box[1], bottom=box[2], top=box[3],
                               fill_color="white", fill_alpha=1.0, line_color="#cfcfcf",
                               line_width=3, border_radius=10))
    items = []
    # legend proxies: same series, hidden in this (caption) canvas
    for (f, v), name, col in zip(fv_list, series_names, series_colors):
        if name == "Ground truth":
            r = b.line(f, v, line_color=col, line_width=GT_W, visible=False)
        else:
            r = b.line(f, v, line_color=col, line_width=PR_W, line_dash=PR_DASH, visible=False)
        items.append(LegendItem(label=name, renderers=[r]))
    leg = Legend(items=items, location=(legend_x, legend_y), orientation="vertical", nrows=2,
                 label_text_font=FONT, label_text_font_size="42px", label_text_color="black",
                 glyph_width=86, glyph_height=50, label_height=50, label_width=334,
                 label_standoff=35, spacing=13, padding=13, margin=0,
                 border_line_alpha=0, background_fill_alpha=0,
                 inactive_fill_alpha=0, click_policy="none")
    b.add_layout(leg, "center")
    add_caption(b, letter, rest, cap_x, cap_y)
    return b


# ---------------- build (page is 4096 px wide) ----------------
hipA_list = [(hipA_gt_f, hipA_gt_v), (hipA_fus_f, hipA_fus_v), (hipA_tcn_f, hipA_tcn_v),
             (hipA_trf_f, hipA_trf_v), (hipA_s2s_f, hipA_s2s_v)]
kneeA_list = [(kneeA_gt_f, kneeA_gt_v), (kneeA_fus_f, kneeA_fus_v), (kneeA_tcn_f, kneeA_tcn_v),
              (kneeA_trf_f, kneeA_trf_v), (kneeA_s2s_f, kneeA_s2s_v)]
hipB_list = [(hipB_gt_f, hipB_gt_v), (hipB_fus_f, hipB_fus_v), (hipB_tcn_f, hipB_tcn_v),
             (hipB_trf_f, hipB_trf_v), (hipB_s2s_f, hipB_s2s_v)]
kneeB_list = [(kneeB_gt_f, kneeB_gt_v), (kneeB_fus_f, kneeB_fus_v), (kneeB_tcn_f, kneeB_tcn_v),
              (kneeB_trf_f, kneeB_trf_v), (kneeB_s2s_f, kneeB_s2s_v)]

WA, WB = 2036, 2044
BLA, BRA = 142, 205
BLB, BRB = 325, 32
hipA = make_panel(WA, 712, BLA, BRA, 81, 57, (-20.34, 25.93), [-20, -10, 0, 10, 20],
                  "(a) Hip joint angle in normal gait", "Hip angle (°)", hipA_list)
kneeA = make_panel(WA, 750, BLA, BRA, 69, 106, (-35.5, 52.2), [-30, -20, -10, 0, 10, 20, 30, 40, 50],
                   "(b) Knee joint angle in normal gait", "Knee angle (°)", kneeA_list, xlabel="Frame index")
botA = make_bottom(WA, 342, BLA, BRA, 226, 196, (226, 1466, 192, 331),
                   "a", ") Normal gait\u2014hip angle", 785, 76, hipA_list)

hipB = make_panel(WB, 712, BLB, BRB, 81, 57, (-18.5, 32.85), [-10, 0, 10, 20, 30],
                  "(a) Hip joint angle in normal gait", "Hip angle (°)", hipB_list)
kneeB = make_panel(WB, 750, BLB, BRB, 69, 106, (-3.1, 61.3), [0, 10, 20, 30, 40, 50, 60],
                   "(b) Knee joint angle in normal gait", "Knee angle (°)", kneeB_list, xlabel="Frame index")
botB = make_bottom(WB, 342, BLB, BRB, 224, 196, (224, 1465, 192, 331),
                   "b", ") Normal gait\u2014knee angle", 786, 76, hipB_list)

layout = row(column(hipA, kneeA, botA, spacing=0), column(hipB, kneeB, botB, spacing=0), spacing=0)

open("out.html", "w").write(file_html(layout, INLINE))
